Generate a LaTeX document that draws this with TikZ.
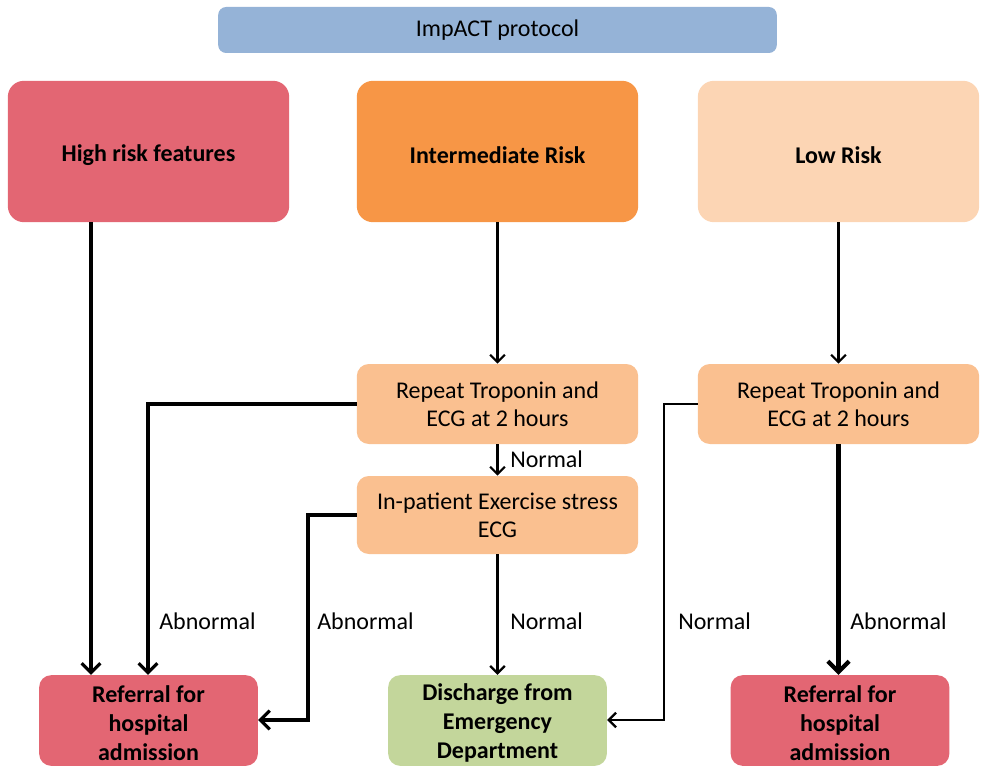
\documentclass[tikz,border=0pt]{standalone}
\usepackage{fontspec}
\setmainfont{Carlito}
\usetikzlibrary{arrows.meta}
\definecolor{titleblue}{HTML}{95B3D7}
\definecolor{highred}{HTML}{E36673}
\definecolor{midorange}{HTML}{F79646}
\definecolor{lowpeach}{HTML}{FCD5B4}
\definecolor{steppeach}{HTML}{FAC090}
\definecolor{dischgreen}{HTML}{C3D69B}
\tikzset{
  px/.style={x=0.75pt,y=-0.75pt},
  boxbase/.style={rounded corners=9pt, inner sep=0pt, align=center, font=\fontsize{18}{21}\selectfont},
  bigbox/.style={boxbase, rounded corners=12pt, font=\bfseries\fontsize{18}{21}\selectfont},
  outbox/.style={boxbase, font=\bfseries\fontsize{18}{22}\selectfont},
  conn/.style={draw=black, line width=2.4pt, -{Straight Barb[length=7pt,width=14pt,line width=2.4pt]}},
  thinconn/.style={draw=black, line width=1.7pt, -{Straight Barb[length=5.5pt,width=11pt,line width=1.7pt]}},
  lbl/.style={font=\fontsize{18}{21}\selectfont, anchor=west, inner sep=0pt},
}
\begin{document}
\begin{tikzpicture}[px]
\useasboundingbox (0,0) rectangle (984,780);
% boxes
\node[boxbase, fill=titleblue, minimum width=419pt, minimum height=34.5pt, rounded corners=6pt] (title) at (497.5,30) {ImpACT protocol};
\node[bigbox, fill=highred, minimum width=211pt, minimum height=106pt] (high) at (148.5,151.5) {};
\node[bigbox, fill=midorange, minimum width=211pt, minimum height=106pt] (mid) at (497.5,151.5) {};
\node[bigbox, fill=lowpeach, minimum width=211pt, minimum height=106pt] (low) at (838.5,151.5) {};
\node[bigbox] (hight) at (148.5,155) {High risk features};
\node[bigbox] (midt) at (497.5,155) {Intermediate Risk};
\node[bigbox] (lowt) at (838.5,155) {Low Risk};
\node[boxbase, fill=steppeach, minimum width=211pt, minimum height=60pt] (rep1) at (497.5,404) {Repeat Troponin and\\ECG at 2 hours};
\node[boxbase, fill=steppeach, minimum width=211pt, minimum height=60pt] (rep2) at (838.5,404) {Repeat Troponin and\\ECG at 2 hours};
\node[boxbase, fill=steppeach, minimum width=211pt, minimum height=58.5pt] (exer) at (497.5,515) {In-patient Exercise stress\\ECG};
\node[outbox, fill=highred, minimum width=164pt, minimum height=68pt] (ref1) at (148.5,720.5) {};
\node[outbox, fill=dischgreen, minimum width=164pt, minimum height=68pt] (dis) at (497.5,720.5) {};
\node[outbox, fill=highred, minimum width=164pt, minimum height=68pt] (ref2) at (840,720.5) {};
\node[outbox] (ref1t) at (148.5,723) {Referral for\\hospital\\admission};
\node[outbox] (dist) at (497.5,723) {Discharge from\\Emergency\\Department};
\node[outbox] (ref2t) at (840,723) {Referral for\\hospital\\admission};
% coordinates
\coordinate (c1) at (148,404);
\coordinate (c2) at (308,515);
\coordinate (c3) at (308,720);
\coordinate (c4) at (664,404);
\coordinate (c5) at (664,720);
% connectors
\draw[conn] (high.south -| 91,0) -- (ref1.north -| 91,0);
\draw[conn] (rep1.west) -- (c1) -- (ref1.north -| c1);
\draw[conn] (exer.west) -- (c2) -- (c3) -- (ref1.east |- c3);
\draw[thinconn] (mid.south) -- (rep1.north);
\draw[thinconn] (rep1.south) -- (exer.north);
\draw[thinconn] (exer.south) -- (dis.north);
\draw[thinconn] (low.south) -- (rep2.north);
\draw[thinconn] (rep2.west) -- (c4) -- (c5) -- (dis.east |- c5);
\draw[draw=black, line width=3.2pt, -{Straight Barb[length=8pt,width=16pt,line width=3.2pt]}] (rep2.south) -- (ref2.north -| rep2.south);
% labels
\node[lbl] (l1) at (510,459) {Normal};
\node[lbl] (l2) at (159,621) {Abnormal};
\node[lbl] (l3) at (317,621) {Abnormal};
\node[lbl] (l4) at (510,621) {Normal};
\node[lbl] (l5) at (678,621) {Normal};
\node[lbl] (l6) at (850,621) {Abnormal};
\end{tikzpicture}
\end{document}
